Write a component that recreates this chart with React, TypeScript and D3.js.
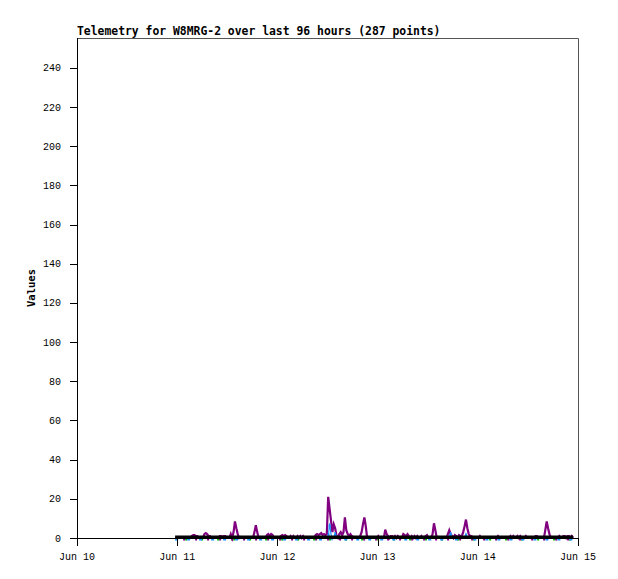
import React from "react";
import * as d3 from "d3";

const TITLE = "Telemetry for W8MRG-2 over last 96 hours (287 points)";
const Y_LABEL = "Values";
const X_TICK_LABELS = ["Jun 10", "Jun 11", "Jun 12", "Jun 13", "Jun 14", "Jun 15"];
const X_TICK_DAYS = [10, 11, 12, 13, 14, 15];
const Y_TICKS = [0, 20, 40, 60, 80, 100, 120, 140, 160, 180, 200, 220, 240];
const Y_MAX = 255.3;
// 287 samples, roughly every 20 minutes, starting Jun 10 23:30
const START_HOUR = 23.5;
const STEP_MIN = 20;

const purple = [
  0,0,0,0,0,0,0,0,0,0,
  0,0,1,1.5,1.5,1,1,0,0,0,
  0,2,2.5,2,1,1,0,0,0,0,
  0,0,1,1,0.5,1,1,0,0,0,
  2,0,3,8.5,5,2,0,0.5,0,0.5,
  0.5,0,0,0,0,0,0,3,6.5,3,
  0,0,0,0,0,0,1.5,2,1,2,
  1.5,0,0,0,0,0,1,1.5,1,1.5,
  1,0,0,1,0,1,0,0,1,0,
  1,0,1,0,0,0,0,0,0,0,
  0,1.5,2,1.5,2,2.5,1.5,2,1.5,2,
  21,15,9,3,7,5,1,0,2,3,
  1.5,3,10.5,4,2,1,2,1,0.5,0,
  0,0,0,1,3,7,10.5,6,0,0,
  0,0,0,0,0,0,1,0,0,0,
  0,4.3,2,1,0,1,1,0,1,0,
  1,0,0,0,2,1.5,1,2,1,0,
  1,0,1,0,1,0,0,1,0,0,
  1,1.5,0,0,0,2,7.5,4,0,0,
  0,0,0,0,0,0,2,4,2,1,
  0,1.5,1,0,1.5,1,1,3,6,9.4,
  5,2,1,1,0,0,0,0,0,1,
  0,0,0,0,0,0,0,0,0,0,
  0,0,1,0,0,0,0,0,0,0,
  0,1,0,1,0,0,1,0,1,0,
  0,0,1,0,0,0,0,0,0,1,
  1,0,0,0,0,0,4,8.5,5,2,
  0,0,0,0,0,0,1,0,0,1,
  1,0,1,1,0,1,0,
];

const blueSpikes: [number, number][] = [[111, 7.5], [112, 2], [115, 3], [198, 3], [209, 2]];
const blue = purple.map((_, i) => {
  const s = blueSpikes.find((b) => b[0] === i);
  return s ? s[1] : 0;
});
const green = purple.map(() => 0);
const black = purple.map(() => 0);

const W = 618, H = 579;
const L = 77, R = 578, T = 38, B = 538;

const day = (d: number, h = 0) => new Date(Date.UTC(2024, 5, d, 0, 0) + h * 3600e3);

export default function App() {
  const x = d3.scaleTime().domain([day(10), day(15)]).range([L, R]);
  const y = d3.scaleLinear().domain([0, Y_MAX]).range([B, T]);
  const times = purple.map((_, i) => day(10, START_HOUR + (i * STEP_MIN) / 60));
  const mk = (vals: number[], dy = 0) =>
    d3.line<number>().x((_, i) => x(times[i])).y((v) => y(v) + dy)(vals) || "";
  const mono = "'DejaVu Sans Mono', monospace";
  const tickFont = "'Liberation Mono', monospace";
  return (
    <svg width={W} height={H} style={{ position: "absolute", left: 0, top: 0, background: "#fff" }}>
      <rect x={0} y={0} width={W} height={H} fill="#fff" />
      <text x={L} y={35} fontFamily={mono} fontWeight="bold" fontSize={11.4} fill="#000">{TITLE}</text>
      {/* top/right border */}
      <path d={`M${L},${T + 0.5}H${R + 0.5}V${B}`} stroke="#555" fill="none" />
      {/* data */}
      <path d={mk(purple)} stroke="#800080" strokeWidth={2.2} fill="none" />
      <path d={mk(blue)} stroke="#1e90ff" strokeWidth={1.2} fill="none" />
      <path d={mk(green, 1.5)} stroke="#00c000" strokeWidth={2} fill="none" strokeDasharray="2 14" strokeDashoffset={6} />
      <path d={mk(blue, 1.5)} stroke="#1e90ff" strokeWidth={2} fill="none" strokeDasharray="3 9" />
      <path d={mk(purple.map(() => 0), 1.5)} stroke="#800080" strokeWidth={2} fill="none" strokeDasharray="2 10" strokeDashoffset={4} />
      <path d={mk(black, -1)} stroke="#000" strokeWidth={2.8} fill="none" />
      {/* axes */}
      <line x1={L + 0.5} x2={L + 0.5} y1={T} y2={B + 8} stroke="#000" />
      <line x1={L} x2={R + 1} y1={B + 0.5} y2={B + 0.5} stroke="#000" />
      {Y_TICKS.map((t) => (
        <g key={t}>
          <line x1={L - 7} x2={L} y1={Math.round(y(t)) + 0.5} y2={Math.round(y(t)) + 0.5} stroke="#000" />
          <text x={61} y={y(t) + 3.5} textAnchor="end" fontFamily={tickFont} fontSize={10} fill="#000">{t}</text>
        </g>
      ))}
      {X_TICK_DAYS.map((d, i) => (
        <g key={d}>
          <line x1={Math.round(x(day(d))) + 0.5} x2={Math.round(x(day(d))) + 0.5} y1={B} y2={B + 8} stroke="#000" />
          <text x={x(day(d))} y={560} textAnchor="middle" fontFamily={tickFont} fontSize={10} fill="#000">{X_TICK_LABELS[i]}</text>
        </g>
      ))}
      <text transform={`translate(35,288) rotate(-90)`} textAnchor="middle" fontFamily={mono} fontWeight="bold" fontSize={10.5} fill="#000">{Y_LABEL}</text>
    </svg>
  );
}
